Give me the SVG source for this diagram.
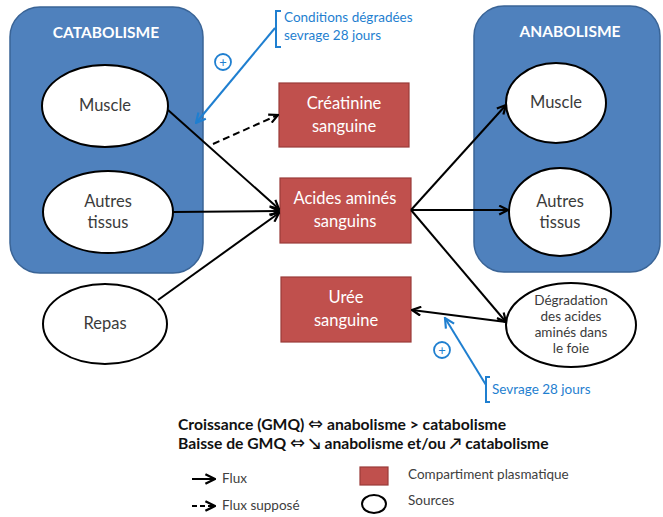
<svg xmlns="http://www.w3.org/2000/svg" width="663" height="517" viewBox="0 0 663 517">
<style>
text{font-family:Lato,"Open Sans","Liberation Sans",sans-serif}
.grp{fill:#4F81BD;stroke:#3A6496;stroke-width:1.5}
.grpt{fill:#fff;font-weight:bold;font-size:15.5px;text-anchor:middle}
.ell{fill:#fff;stroke:#000;stroke-width:2}
.et{fill:#3b3b3b;font-size:16.5px;text-anchor:middle}
.box{fill:#C0504D;stroke:#9A3B39;stroke-width:1.2}
.bt{fill:#fff;font-size:16.5px;text-anchor:middle}
.ln{stroke:#000;stroke-width:2;fill:none}
.blue{stroke:#1F7FD0;stroke-width:2;fill:none}
.bl{fill:#1F7FD0;font-size:13.5px}
.leg{fill:#404040;font-size:13.5px}
.bold{fill:#111;font-size:15.7px;font-weight:bold}
.sym{font-family:"DejaVu Sans",sans-serif;font-weight:normal;font-size:18px}
</style>
<defs>
<marker id="ah" viewBox="0 0 10 10" refX="9" refY="5" markerWidth="11" markerHeight="11" orient="auto-start-reverse" markerUnits="userSpaceOnUse">
<path d="M1,1 L9,5 L1,9" fill="none" stroke="#000" stroke-width="2"/>
</marker>
<marker id="ahb" viewBox="0 0 10 10" refX="9" refY="5" markerWidth="12" markerHeight="12" orient="auto" markerUnits="userSpaceOnUse">
<path d="M1,1 L9,5 L1,9" fill="none" stroke="#1F7FD0" stroke-width="1.8"/>
</marker>
<marker id="ahk" viewBox="0 0 10 10" refX="9" refY="5" markerWidth="12" markerHeight="12" orient="auto-start-reverse" markerUnits="userSpaceOnUse">
<path d="M1,1 L9,5 L1,9" fill="none" stroke="#000" stroke-width="2"/>
</marker>
</defs>

<g id="catabolisme">
<rect class="grp" x="10" y="7" width="193" height="266" rx="30"/>
<text class="grpt" x="106" y="38">CATABOLISME</text>
</g>
<g id="anabolisme">
<rect class="grp" x="474" y="6" width="186" height="266" rx="30"/>
<text class="grpt" x="570" y="37">ANABOLISME</text>
</g>

<g id="muscle-cat">
<ellipse class="ell" cx="105" cy="106" rx="63" ry="41"/>
<text class="et" x="105" y="111">Muscle</text>
</g>
<g id="autres-cat">
<ellipse class="ell" cx="108" cy="212" rx="65" ry="41"/>
<text class="et" x="108" y="207">Autres</text>
<text class="et" x="108" y="228">tissus</text>
</g>
<g id="repas">
<ellipse class="ell" cx="105" cy="324" rx="62" ry="40"/>
<text class="et" x="105" y="329">Repas</text>
</g>

<g id="muscle-ana">
<ellipse class="ell" cx="556" cy="103" rx="50" ry="40"/>
<text class="et" x="556" y="108">Muscle</text>
</g>
<g id="autres-ana">
<ellipse class="ell" cx="560" cy="212" rx="51" ry="44"/>
<text class="et" x="560" y="207">Autres</text>
<text class="et" x="560" y="228">tissus</text>
</g>
<g id="degradation">
<ellipse class="ell" cx="571" cy="325" rx="65" ry="42"/>
<text class="et" style="font-size:13.5px" x="571" y="305">Dégradation</text>
<text class="et" style="font-size:13.5px" x="571" y="321">des acides</text>
<text class="et" style="font-size:13.5px" x="571" y="337">aminés dans</text>
<text class="et" style="font-size:13.5px" x="571" y="353">le foie</text>
</g>

<g id="creatinine">
<rect class="box" x="279" y="83" width="130" height="64"/>
<text class="bt" x="344" y="109">Créatinine</text>
<text class="bt" x="344" y="132">sanguine</text>
</g>
<g id="acides">
<rect class="box" x="280" y="178" width="131" height="65"/>
<text class="bt" x="345" y="204">Acides aminés</text>
<text class="bt" x="345" y="227">sanguins</text>
</g>
<g id="uree">
<rect class="box" x="281" y="277" width="130" height="65"/>
<text class="bt" x="346" y="303">Urée</text>
<text class="bt" x="346" y="326">sanguine</text>
</g>

<g id="connectors">
<line class="ln" x1="168" y1="110" x2="279" y2="209" marker-end="url(#ah)"/>
<line class="ln" x1="173" y1="212" x2="279" y2="211" marker-end="url(#ah)"/>
<line class="ln" x1="158" y1="300" x2="279" y2="213" marker-end="url(#ah)"/>
<line class="ln" x1="213" y1="144" x2="278" y2="115" stroke-dasharray="7,4" marker-end="url(#ah)"/>
<line class="ln" x1="411" y1="210" x2="506" y2="105" marker-end="url(#ah)"/>
<line class="ln" x1="411" y1="210" x2="508" y2="210" marker-end="url(#ah)"/>
<line class="ln" x1="411" y1="210" x2="506" y2="322" marker-end="url(#ah)"/>
<line class="ln" x1="506" y1="322" x2="412" y2="310" marker-end="url(#ah)"/>
</g>

<g id="annotation-top">
<path class="blue" d="M281,11 H276 V47 H281"/>
<line class="blue" x1="275" y1="28" x2="196" y2="123" marker-end="url(#ahb)"/>
<circle cx="223" cy="62" r="8" fill="none" stroke="#1F7FD0" stroke-width="1.8"/>
<text x="223" y="66.5" fill="#1F7FD0" font-size="13" text-anchor="middle">+</text>
<text class="bl" x="284" y="22">Conditions dégradées</text>
<text class="bl" x="284" y="40">sevrage  28 jours</text>
</g>

<g id="annotation-bottom">
<path class="blue" d="M490,377 H486 V402 H490"/>
<line class="blue" x1="486" y1="385" x2="445" y2="318" marker-end="url(#ahb)"/>
<circle cx="442" cy="350" r="8" fill="none" stroke="#1F7FD0" stroke-width="1.8"/>
<text x="442" y="354.5" fill="#1F7FD0" font-size="13" text-anchor="middle">+</text>
<text class="bl" x="492" y="394">Sevrage 28 jours</text>
</g>

<g id="summary">
<text class="bold" x="178" y="430">Croissance (GMQ) <tspan class="sym">⇔</tspan> anabolisme &gt; catabolisme</text>
<text class="bold" x="178" y="449">Baisse de GMQ <tspan class="sym">⇔</tspan> ↘ anabolisme et/ou ↗ catabolisme</text>
</g>

<g id="legend">
<line class="ln" x1="192" y1="479" x2="215" y2="479" marker-end="url(#ahk)"/>
<text class="leg" x="222" y="483">Flux</text>
<line class="ln" x1="192" y1="506" x2="215" y2="506" stroke-dasharray="5,3" marker-end="url(#ahk)"/>
<text class="leg" x="222" y="510">Flux supposé</text>
<rect class="box" x="360" y="467" width="28" height="18"/>
<text class="leg" x="408" y="479">Compartiment plasmatique</text>
<ellipse cx="374" cy="504" rx="12" ry="9" fill="#fff" stroke="#000" stroke-width="2"/>
<text class="leg" x="408" y="505">Sources</text>
</g>
</svg>
